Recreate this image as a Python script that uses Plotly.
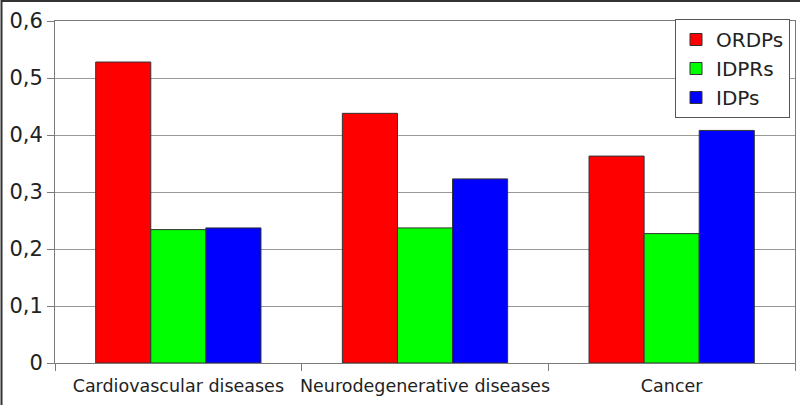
import plotly.graph_objects as go

categories = ["Cardiovascular diseases", "Neurodegenerative diseases", "Cancer"]
ordps = [0.528, 0.438, 0.363]
idprs = [0.234, 0.237, 0.227]
idps = [0.237, 0.323, 0.408]

series = [("ORDPs", ordps, "#ff0000"), ("IDPRs", idprs, "#00ff00"), ("IDPs", idps, "#0000ff")]

W, H = 800, 405
ML, MR, MT, MB = 55, 5, 21, 42
pw, ph = W - ML - MR, H - MT - MB

fig = go.Figure()
for name, vals, color in series:
    fig.add_trace(go.Bar(x=categories, y=vals, name=name,
                         marker=dict(color=color, line=dict(color="#333333", width=1))))

axis_style = dict(showline=True, linecolor="#7a7a7a", linewidth=1, mirror=True,
                  ticks="outside", ticklen=7, tickcolor="#7a7a7a", automargin=False,
                  tickfont=dict(family="DejaVu Sans", color="#222222"))

fig.update_xaxes(**axis_style, tickson="boundaries", showgrid=False, tickangle=0,
                 ticklabelstandoff=7)
fig.update_xaxes(tickfont_size=17.5)
fig.update_yaxes(**axis_style, range=[0, 0.6], dtick=0.1, showgrid=True,
                 gridcolor="#999999", gridwidth=1, zeroline=False)
fig.update_yaxes(tickfont_size=21)

fig.update_layout(
    width=W, height=H,
    margin=dict(l=ML, r=MR, t=MT, b=MB),
    paper_bgcolor="white", plot_bgcolor="white",
    separators=", ",
    barmode="group", bargap=0.33, bargroupgap=0,
    font=dict(family="DejaVu Sans"),
    legend=dict(x=(790 - ML) / pw, xanchor="right", y=1 + (MT - 19) / ph, yanchor="top",
                bgcolor="white", bordercolor="#555555", borderwidth=1,
                font=dict(size=20, color="#222222"), tracegroupgap=0),
    showlegend=True,
)

# thin dark frame on the top and left edges of the image
fig.add_shape(type="line", xref="paper", yref="paper",
              x0=-(ML - 1.5) / pw, x1=1 + MR / pw, y0=1 + (MT - 1) / ph, y1=1 + (MT - 1) / ph,
              line=dict(color="#333333", width=2))
fig.add_shape(type="line", xref="paper", yref="paper",
              x0=-(ML - 1.5) / pw, x1=-(ML - 1.5) / pw, y0=-MB / ph, y1=1 + MT / ph,
              line=dict(color="#333333", width=2))

fig.write_html("out.html", config={"displayModeBar": False},
               post_script="document.body.style.margin='0';")
